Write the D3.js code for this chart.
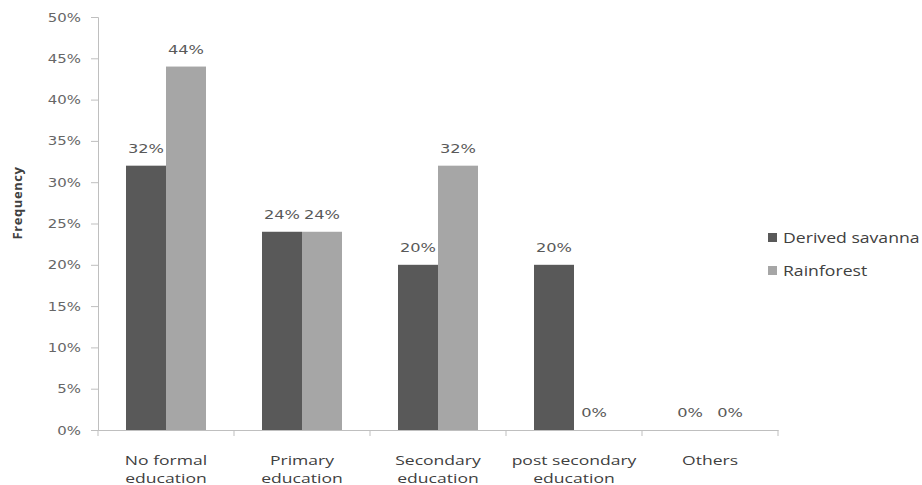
<!DOCTYPE html>
<html>
<head>
<meta charset="utf-8">
<script src="https://cdn.jsdelivr.net/npm/d3@7"></script>
<style>
  body { margin: 0; background: #fff; }
  svg { display: block; }
</style>
</head>
<body>
<svg id="chart"></svg>
<script>
var categories = [["No formal", "education"], ["Primary", "education"], ["Secondary", "education"], ["post secondary", "education"], ["Others"]];
var seriesNames = ["Derived savanna", "Rainforest"];
var savanna = [32, 24, 20, 20, 0];
var rainforest = [44, 24, 32, 0, 0];
var yTicks = [0, 5, 10, 15, 20, 25, 30, 35, 40, 45, 50];
var colors = ["#595959", "#a6a6a6"];

var width = 922,
    height = 485;

// the source picture is stretched sideways, so text gets widened too
var stretch = 1.3;

var svg = d3.select('#chart')
    .attr('width', width)
    .attr('height', height);

// plot box (named so they don't clash with window.top)
var plotLeft = 98, plotRight = 778, plotTop = 17, plotBottom = 430;

var x = d3.scaleBand()
    .domain(d3.range(categories.length))
    .range([plotLeft, plotRight])
    .paddingInner(0)
    .paddingOuter(0);

var x1 = d3.scaleBand()
    .domain([0, 1])
    .range([0, x.bandwidth()])
    .paddingInner(0)
    .paddingOuter(0.7);

var y = d3.scaleLinear()
    .domain([0, 50])
    .range([plotBottom, plotTop]);

function wide(px, py, sx) {
  return 'translate(' + px + ',' + py + ') scale(' + (sx || stretch) + ',1)';
}

// y axis
var yAxis = svg.append('g')
    .attr('transform', 'translate(' + plotLeft + ',0)')
    .call(d3.axisLeft(y).tickValues(yTicks).tickSize(7).tickFormat(function(d) { return d + '%'; }));
yAxis.select('.domain').attr('stroke', '#bfbfbf');
yAxis.selectAll('line').attr('stroke', '#bfbfbf');
yAxis.selectAll('text')
  .attr('fill', '#666')
  .attr('font-family', 'DejaVu Sans, Verdana, sans-serif')
  .attr('font-size', 11.5)
  .attr('x', 0)
  .attr('dy', '0.35em')
  .attr('transform', wide(-17, 0));

// x axis
var xAxis = svg.append('g')
    .attr('transform', 'translate(0,' + plotBottom + ')')
    .call(d3.axisBottom(x).tickValues([]).tickSizeOuter(0));
xAxis.select('.domain').attr('stroke', '#bfbfbf');
xAxis.selectAll('.sep')
  .data(d3.range(categories.length + 1))
  .enter().append('line')
  .attr('x1', function(i) { return plotLeft + i * x.bandwidth(); })
  .attr('x2', function(i) { return plotLeft + i * x.bandwidth(); })
  .attr('y1', 0)
  .attr('y2', 6)
  .attr('stroke', '#bfbfbf');

// category labels
var cat = svg.append('g').selectAll('text')
  .data(categories)
  .enter().append('text')
  .attr('transform', function(d, i) { return wide(x(i) + x.bandwidth() / 2, 465); })
  .attr('font-family', 'Open Sans, sans-serif')
  .attr('font-size', 13.5)
  .attr('fill', '#404040')
  .style('text-anchor', 'middle');
cat.each(function(d) {
  var t = d3.select(this);
  d.forEach(function(line, k) {
    t.append('tspan')
      .attr('x', 0)
      .attr('dy', k === 0 ? 0 : 18)
      .text(line);
  });
});

// bars
var series = [savanna, rainforest];
series.forEach(function(vals, s) {
  var g = svg.append('g');
  g.selectAll('rect')
    .data(vals)
    .enter().append('rect')
    .attr('x', function(d, i) { return x(i) + x1(s); })
    .attr('y', function(d) { return y(d); })
    .attr('width', x1.bandwidth())
    .attr('height', function(d) { return plotBottom - y(d); })
    .attr('fill', colors[s]);
  g.selectAll('text')
    .data(vals)
    .enter().append('text')
    .text(function(d) { return d + '%'; })
    .attr('transform', function(d, i) { return wide(x(i) + x1(s) + x1.bandwidth() / 2, y(d) - 13); })
    .attr('font-family', 'DejaVu Sans, Verdana, sans-serif')
    .attr('font-size', 12.5)
    .attr('fill', '#595959')
    .style('text-anchor', 'middle');
});

// y title
svg.append('text')
  .text('Frequency')
  .attr('transform', 'translate(22,203) rotate(-90)')
  .attr('font-family', 'Open Sans, sans-serif')
  .attr('font-weight', 'bold')
  .attr('font-size', 13)
  .attr('letter-spacing', 0.6)
  .attr('fill', '#404040')
  .style('text-anchor', 'middle');

// legend
var legend = svg.append('g').selectAll('g')
  .data(seriesNames)
  .enter().append('g')
  .attr('transform', function(d, i) { return 'translate(768,' + (233 + i * 33) + ')'; });
legend.append('rect')
  .attr('width', 9)
  .attr('height', 9)
  .attr('fill', function(d, i) { return colors[i]; });
legend.append('text')
  .text(function(d) { return d; })
  .attr('transform', wide(15, 10, 1.26))
  .attr('font-family', 'Open Sans, sans-serif')
  .attr('font-size', 14)
  .attr('fill', '#404040');
</script>
</body>
</html>
